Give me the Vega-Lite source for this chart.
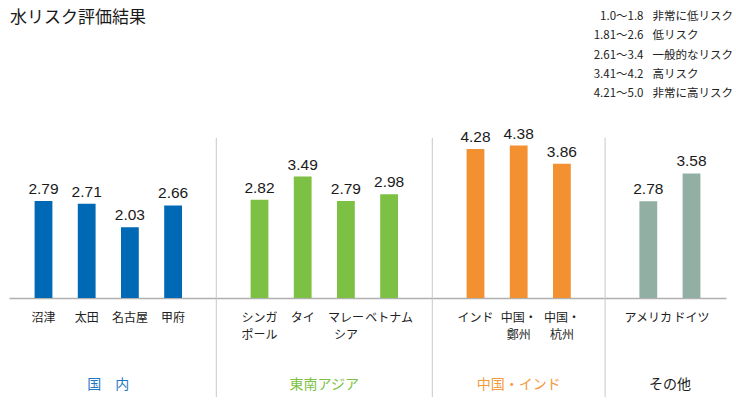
{
  "$schema": "https://vega.github.io/schema/vega-lite/v6.json",
  "width": 717,
  "height": 174,
  "autosize": "none",
  "padding": {"left": 9, "top": 124, "right": 10, "bottom": 109},
  "background": "white",
  "title": {"text": "水リスク評価結果", "anchor": "start", "frame": "group", "offset": -16, "font": "Noto Sans CJK JP", "fontSize": 17, "fontWeight": "normal", "color": "#1a1a1a", "dx": 1},
  "config": {
    "view": {"stroke": null},
    "axis": {"title": null, "grid": false},
    "legend": {"symbolOpacity": 0, "symbolStrokeWidth": 0, "symbolSize": 0, "labelFont": "Noto Sans CJK JP", "labelFontSize": 11.5, "labelColor": "#222222", "rowPadding": 6.4, "padding": 0, "labelOffset": 0, "labelLimit": 300, "title": null}
  },
  "datasets": {
    "bars": [
      {"item": "沼津", "value": 2.79, "group": "国内"},
      {"item": "太田", "value": 2.71, "group": "国内"},
      {"item": "名古屋", "value": 2.03, "group": "国内"},
      {"item": "甲府", "value": 2.66, "group": "国内"},
      {"item": "シンガポール", "value": 2.82, "group": "東南アジア"},
      {"item": "タイ", "value": 3.49, "group": "東南アジア"},
      {"item": "マレーシア", "value": 2.79, "group": "東南アジア"},
      {"item": "ベトナム", "value": 2.98, "group": "東南アジア"},
      {"item": "インド", "value": 4.28, "group": "中国・インド"},
      {"item": "中国・鄭州", "value": 4.38, "group": "中国・インド"},
      {"item": "中国・杭州", "value": 3.86, "group": "中国・インド"},
      {"item": "アメリカ", "value": 2.78, "group": "その他"},
      {"item": "ドイツ", "value": 3.58, "group": "その他"}
    ],
    "seps": [{"item": "gap1"}, {"item": "gap2"}, {"item": "gap3"}],
    "groupsPair": [
      {"group": "国内", "label": "国　内", "anchor": "太田"},
      {"group": "東南アジア", "label": "東南アジア", "anchor": "タイ"},
      {"group": "その他", "label": "その他", "anchor": "アメリカ"}
    ],
    "groupsMid": [
      {"group": "中国・インド", "label": "中国・インド", "anchor": "中国・鄭州"}
    ],
    "key": [
      {"range": "1.0〜1.8", "desc": "非常に低リスク"},
      {"range": "1.81〜2.6", "desc": "低リスク"},
      {"range": "2.61〜3.4", "desc": "一般的なリスク"},
      {"range": "3.41〜4.2", "desc": "高リスク"},
      {"range": "4.21〜5.0", "desc": "非常に高リスク"}
    ]
  },
  "layer": [
    {
      "data": {"name": "bars"},
      "mark": {"type": "bar"},
      "encoding": {
        "x": {"field": "item", "type": "nominal", "sort": null,
          "scale": {"domain": ["沼津", "太田", "名古屋", "甲府", "gap1", "シンガポール", "タイ", "マレーシア", "ベトナム", "gap2", "インド", "中国・鄭州", "中国・杭州", "gap3", "アメリカ", "ドイツ"], "paddingInner": 0.588, "paddingOuter": 0.5925},
          "axis": {"domainColor": "#b0b0b0", "domainWidth": 1.5, "ticks": false, "labelAngle": 0, "labelFont": "Noto Sans CJK JP", "labelFontSize": 12, "labelColor": "#222222", "labelPadding": 14, "labelLineHeight": 17, "labelOverlap": false,
            "labelExpr": "indexof(datum.label,'gap')==0 ? '' : datum.label=='シンガポール' ? ['シンガ','ポール'] : datum.label=='マレーシア' ? ['マレー','シア'] : datum.label=='中国・鄭州' ? ['中国・','鄭州'] : datum.label=='中国・杭州' ? ['中国・','杭州'] : datum.label"}},
        "y": {"field": "value", "type": "quantitative", "scale": {"domain": [0, 5], "nice": false}, "axis": null},
        "color": {"field": "group", "type": "nominal", "scale": {"domain": ["国内", "東南アジア", "中国・インド", "その他"], "range": ["#0069b5", "#7cc143", "#f39131", "#92afa3"]}, "legend": null}
      }
    },
    {
      "data": {"name": "bars"},
      "mark": {"type": "text", "baseline": "alphabetic", "dy": -7, "font": "Liberation Sans", "fontSize": 15.5, "color": "#1a1a1a"},
      "encoding": {
        "x": {"field": "item", "type": "nominal", "sort": null},
        "y": {"field": "value", "type": "quantitative"},
        "text": {"field": "value", "type": "quantitative", "format": ".2f"}
      }
    },
    {
      "data": {"name": "seps"},
      "mark": {"type": "rule", "color": "#c8c8c8", "strokeWidth": 1},
      "encoding": {
        "x": {"field": "item", "type": "nominal", "sort": null, "bandPosition": 0.5},
        "y": {"datum": 4.6},
        "y2": {"datum": -2.85}
      }
    },
    {
      "data": {"name": "groupsPair"},
      "mark": {"type": "text", "baseline": "middle", "align": "center", "font": "Noto Sans CJK JP", "fontSize": 14},
      "encoding": {
        "x": {"field": "anchor", "type": "nominal", "sort": null, "bandPosition": 1.713},
        "y": {"datum": -2.5},
        "text": {"field": "label"},
        "fill": {"field": "group", "type": "nominal", "scale": {"domain": ["国内", "東南アジア", "中国・インド", "その他"], "range": ["#1f78c1", "#7cc143", "#f39a3c", "#1a1a1a"]}, "legend": null}
      }
    },
    {
      "data": {"name": "groupsMid"},
      "mark": {"type": "text", "baseline": "middle", "align": "center", "font": "Noto Sans CJK JP", "fontSize": 14},
      "encoding": {
        "x": {"field": "anchor", "type": "nominal", "sort": null, "bandPosition": 0.5},
        "y": {"datum": -2.5},
        "text": {"field": "label"},
        "fill": {"field": "group", "type": "nominal", "legend": null}
      }
    },
    {
      "data": {"name": "key"},
      "mark": {"type": "point", "opacity": 0},
      "encoding": {
        "shape": {"field": "range", "type": "nominal", "scale": {"domain": ["1.0〜1.8", "1.81〜2.6", "2.61〜3.4", "3.41〜4.2", "4.21〜5.0"]}, "legend": {"orient": "none", "legendX": 623, "legendY": -113, "labelAlign": "right"}},
        "stroke": {"field": "desc", "type": "nominal", "scale": {"domain": ["非常に低リスク", "低リスク", "一般的なリスク", "高リスク", "非常に高リスク"]}, "legend": {"orient": "none", "legendX": 632, "legendY": -113, "labelAlign": "left"}}
      }
    }
  ]
}
